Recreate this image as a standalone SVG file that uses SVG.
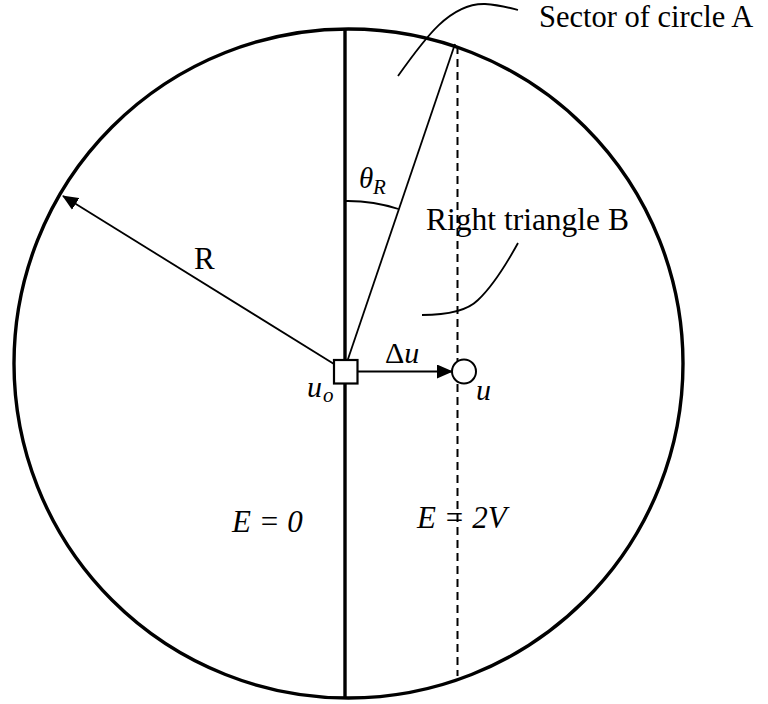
<svg xmlns="http://www.w3.org/2000/svg" width="768" height="704" viewBox="0 0 768 704">
<style>
.t{font-family:"Liberation Serif","Times New Roman",serif;fill:#000}
.i{font-style:italic}
.thin{stroke:#000;stroke-width:1.8;fill:none}
</style>
<defs>
<marker id="ah" markerWidth="16" markerHeight="14" refX="15" refY="7" orient="auto" markerUnits="userSpaceOnUse">
<path d="M0,0 L16,7 L0,14 Z" fill="#000"/>
</marker>
</defs>
<rect width="768" height="704" fill="#fff"/>
<g id="circle">
<circle cx="348.5" cy="363.5" r="334.5" fill="none" stroke="#000" stroke-width="3.4"/>
</g>
<g id="connectors">
<line x1="345" y1="29" x2="345" y2="698" stroke="#000" stroke-width="3.4"/>
<line x1="457.5" y1="46" x2="457.5" y2="676" stroke="#000" stroke-width="2" stroke-dasharray="8,5"/>
<line class="thin" x1="347" y1="362" x2="455" y2="44"/>
<path class="thin" d="M345,201 A164,164 0 0 1 398.5,209"/>
<line class="thin" x1="334" y1="364" x2="63" y2="196" marker-end="url(#ah)"/>
<line class="thin" x1="358" y1="371.5" x2="452" y2="371.5" marker-end="url(#ah)"/>
<path class="thin" d="M398,76 C425,38 450,3 485,4 C500,5 510,8 518,10"/>
<path class="thin" d="M422,315 C445,315 466,312 478,300 C494,285 507,263 518,243"/>
</g>
<g id="uo">
<rect x="334" y="360" width="23.5" height="23.5" fill="#fff" stroke="#000" stroke-width="2.2"/>
<text class="t i" x="307" y="397" font-size="30">u</text>
<text class="t i" x="323" y="402" font-size="21">o</text>
</g>
<g id="u">
<circle cx="464" cy="371.5" r="12" fill="#fff" stroke="#000" stroke-width="2"/>
<text class="t i" x="476" y="400" font-size="30">u</text>
</g>
<g id="labels">
<text class="t" x="539" y="27" font-size="30.5">Sector of circle A</text>
<text class="t" x="426" y="230" font-size="31.5">Right triangle B</text>
<text class="t" x="194" y="269" font-size="31">R</text>
<text class="t" x="385" y="363" font-size="30">Δ<tspan class="i">u</tspan></text>
<text class="t i" x="359" y="188" font-size="29">θ</text>
<text class="t i" x="373" y="194" font-size="21">R</text>
<text class="t i" x="232" y="532" font-size="31">E = 0</text>
<text class="t i" x="417" y="528" font-size="31">E = 2V</text>
</g>
</svg>
